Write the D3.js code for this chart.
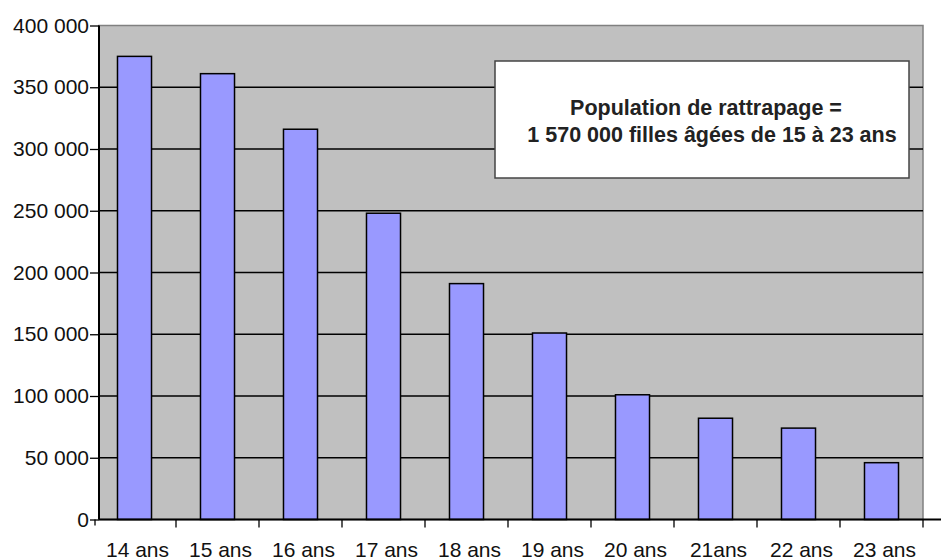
<!DOCTYPE html>
<html><head><meta charset="utf-8">
<script src="https://cdn.jsdelivr.net/npm/d3@7"></script>
<style>body{margin:0;background:#fff}svg{display:block}</style>
</head><body>
<svg id="c" width="944" height="560"></svg>
<script>
const categories = ["14 ans","15 ans","16 ans","17 ans","18 ans","19 ans","20 ans","21ans","22 ans","23 ans"];
const values = [375000,361000,316000,248000,191000,151000,101000,82000,74000,46000];
const yTicks = [0,50000,100000,150000,200000,250000,300000,350000,400000];
const noteLines = ["Population de rattrapage =", " 1 570 000 filles âgées de 15 à 23 ans"];

const svg = d3.select("#c");
const P = {left:99, right:923, top:25.5, bottom:519.5};
const font = "'Liberation Sans', Arial, sans-serif";

const x = d3.scaleBand().domain(categories).range([93, P.right]).paddingInner(0.59).paddingOuter(0.295);
const y = d3.scaleLinear().domain([0,400000]).range([P.bottom, P.top]);

// plot background
svg.append("rect").attr("x",P.left).attr("y",P.top).attr("width",P.right-P.left).attr("height",P.bottom-P.top)
  .attr("fill","#c0c0c0").attr("stroke","#808080").attr("stroke-width",1.5);

// gridlines
svg.append("g").selectAll("line").data(yTicks.filter(d=>d>0&&d<400000)).join("line")
  .attr("x1",P.left).attr("x2",P.right).attr("y1",d=>y(d)).attr("y2",d=>y(d))
  .attr("stroke","#000").attr("stroke-width",1.5);

// bars
svg.append("g").selectAll("rect").data(values).join("rect")
  .attr("x",(d,i)=>x(categories[i])).attr("width",x.bandwidth())
  .attr("y",d=>y(d)).attr("height",d=>y(0)-y(d))
  .attr("fill","#9999ff").attr("stroke","#000").attr("stroke-width",1.5);

// y axis
const ya = d3.axisLeft(y).tickValues(yTicks).tickSize(9).tickPadding(1)
  .tickFormat(d=>d3.format(",")(d).replace(/,/g," "));
const gy = svg.append("g").attr("transform",`translate(${P.left},0)`).call(ya);
gy.select(".domain").attr("stroke","#000").attr("stroke-width",2).attr("d",`M0,${P.top}V${P.bottom}`);
gy.selectAll(".tick line").attr("stroke","#000").attr("stroke-width",1.3);
gy.selectAll("text").attr("font-family",font).attr("font-size",21).attr("fill","#111");

// x axis
const step = x.step();
const bounds = categories.map(c=>x(c)-x.paddingInner()*step/2).concat([P.right]);
const gx = svg.append("g");
gx.append("line").attr("x1",P.left).attr("x2",P.right+18).attr("y1",P.bottom).attr("y2",P.bottom)
  .attr("stroke","#000").attr("stroke-width",2);
gx.selectAll("line.t").data(bounds.slice(1)).join("line").attr("class","t")
  .attr("x1",d=>d).attr("x2",d=>d).attr("y1",P.bottom).attr("y2",P.bottom+8)
  .attr("stroke","#000").attr("stroke-width",1.3);
gx.append("line").attr("x1",95).attr("x2",95).attr("y1",P.bottom).attr("y2",P.bottom+6).attr("stroke","#000").attr("stroke-width",1.3);
gx.selectAll("text").data(categories).join("text")
  .attr("x",d=>x(d)+x.bandwidth()/2+3).attr("y",556.5).attr("text-anchor","middle")
  .attr("font-family",font).attr("font-size",21).attr("fill","#111").text(d=>d);

// annotation box
svg.append("rect").attr("x",495).attr("y",61).attr("width",414).attr("height",117)
  .attr("fill","#fff").attr("stroke","#444").attr("stroke-width",1.5);
svg.append("g").selectAll("text").data(noteLines).join("text")
  .attr("x",(d,i)=>i?709:706).attr("y",(d,i)=>115+i*27).attr("text-anchor","middle")
  .attr("font-family",font).attr("font-weight","bold").attr("font-size",21.5).attr("fill","#222")
  .attr("xml:space","preserve").style("white-space","pre").text(d=>d);
</script>
</body></html>
